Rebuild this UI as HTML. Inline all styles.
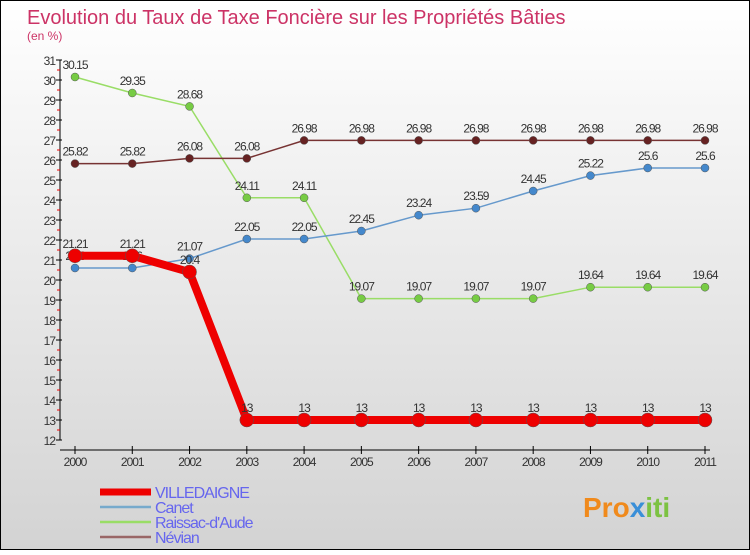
<!DOCTYPE html>
<html><head><meta charset="utf-8"><style>
body{margin:0}
svg text{font-family:"Liberation Sans",sans-serif}
</style></head><body>
<svg width="750" height="550" xmlns="http://www.w3.org/2000/svg">
<defs><linearGradient id="bg" x1="0" y1="0" x2="0" y2="1"><stop offset="0" stop-color="#ffffff"/><stop offset="1" stop-color="#d3d3d3"/></linearGradient></defs>
<rect x="0.5" y="0.5" width="749" height="549" fill="url(#bg)" stroke="#000"/>
<text x="27" y="24" font-size="20" fill="#cc3366">Evolution du Taux de Taxe Foncière sur les Propriétés Bâties</text>
<text x="27" y="40" font-size="12" fill="#cc3366">(en %)</text>
<g id="axes"></g>
<g id="series"></g>
<g id="legend"></g>
<g>
<text x="583" y="517" font-size="28" font-weight="bold" fill="#f08a1c">Pro<tspan fill="#3a8fd8">x</tspan><tspan fill="#7cc242">iti</tspan></text>
</g>
</svg>
<script>
const years=[2000,2001,2002,2003,2004,2005,2006,2007,2008,2009,2010,2011];
const villedaigne=[21.21,21.21,20.4,13,13,13,13,13,13,13,13,13];
const canet=[20.6,20.6,21.07,22.05,22.05,22.45,23.24,23.59,24.45,25.22,25.6,25.6];
const raissac=[30.15,29.35,28.68,24.11,24.11,19.07,19.07,19.07,19.07,19.64,19.64,19.64];
const nevian=[25.82,25.82,26.08,26.08,26.98,26.98,26.98,26.98,26.98,26.98,26.98,26.98];
const yTicks=[12,13,14,15,16,17,18,19,20,21,22,23,24,25,26,27,28,29,30,31];
const names=["VILLEDAIGNE","Canet","Raissac-d'Aude","Névian"];
const NS="http://www.w3.org/2000/svg";
const X=i=>75+i*(630/11);
const Y=v=>60+(31-v)*20;
function mk(tag,attrs,parent,txt){const e=document.createElementNS(NS,tag);for(const k in attrs)e.setAttribute(k,attrs[k]);if(txt!==undefined)e.textContent=txt;parent.appendChild(e);return e;}
const ax=document.getElementById('axes');
let e=mk('line',{x1:60,y1:60,x2:60,y2:440,stroke:'#000'},ax);


e=mk('line',{x1:60,y1:450,x2:710,y2:450,stroke:'#000'},ax);


yTicks.forEach(t=>{
 mk('line',{x1:56,y1:Y(t),x2:62,y2:Y(t),stroke:'#000'},ax);
 if(t<31)mk('line',{x1:57,y1:Y(t)-10,x2:60,y2:Y(t)-10,stroke:'#e00'},ax);
 const l=mk('text',{x:55,y:Y(t)+5,'font-size':12,'text-anchor':'end',fill:'#333','letter-spacing':'-1'},ax,t);
 
 
});
years.forEach((yr,i)=>{
 mk('line',{x1:X(i),y1:446,x2:X(i),y2:454,stroke:'#000'},ax);
 const l=mk('text',{x:X(i),y:466,'font-size':12,'text-anchor':'middle',fill:'#333','letter-spacing':'-1'},ax,yr);
 
 
});
const sg=document.getElementById('series');
const series=[
 {d:raissac,c:'#99dd66',f:'#77cc44',w:1.5,r:4,n:'raissac'},
 {d:nevian,c:'#773333',f:'#662222',w:1.5,r:4,n:'nevian'},
 {d:canet,c:'#6699cc',f:'#4488cc',w:1.5,r:4,n:'canet'},
 {d:villedaigne,c:'#ee0000',f:'#ee0000',w:8,r:7,n:'villedaigne'}];
series.forEach(s=>{
 const g=mk('g',{},sg);
 
 
 const p=mk('polyline',{points:s.d.map((v,i)=>X(i)+','+Y(v)).join(' '),fill:'none',stroke:s.c,'stroke-width':s.w},g);
 
 
 s.d.forEach((v,i)=>{
  const c=mk('circle',{cx:X(i),cy:Y(v),r:s.r,fill:s.f,stroke:'#555','stroke-width':0.5},g);
  
  
  const t=mk('text',{x:X(i),y:Y(v)-8,'font-size':12,'text-anchor':'middle',fill:'#333','letter-spacing':'-1'},g,v);
  
  
 });
});
const lg=document.getElementById('legend');
const lc=['#ee0000','#77aacc','#99dd66','#996666'],lw=[7,2.5,2.5,2.5];
names.forEach((n,i)=>{
 const y=492+i*15;
 const g=mk('g',{},lg);
 
 
 mk('line',{x1:100,y1:y,x2:151,y2:y,stroke:lc[i],'stroke-width':lw[i]},g);
 mk('text',{x:155,y:y+6,'font-size':16,fill:'#6666ee','letter-spacing':'-1'},g,n);
});
</script>
</body></html>
